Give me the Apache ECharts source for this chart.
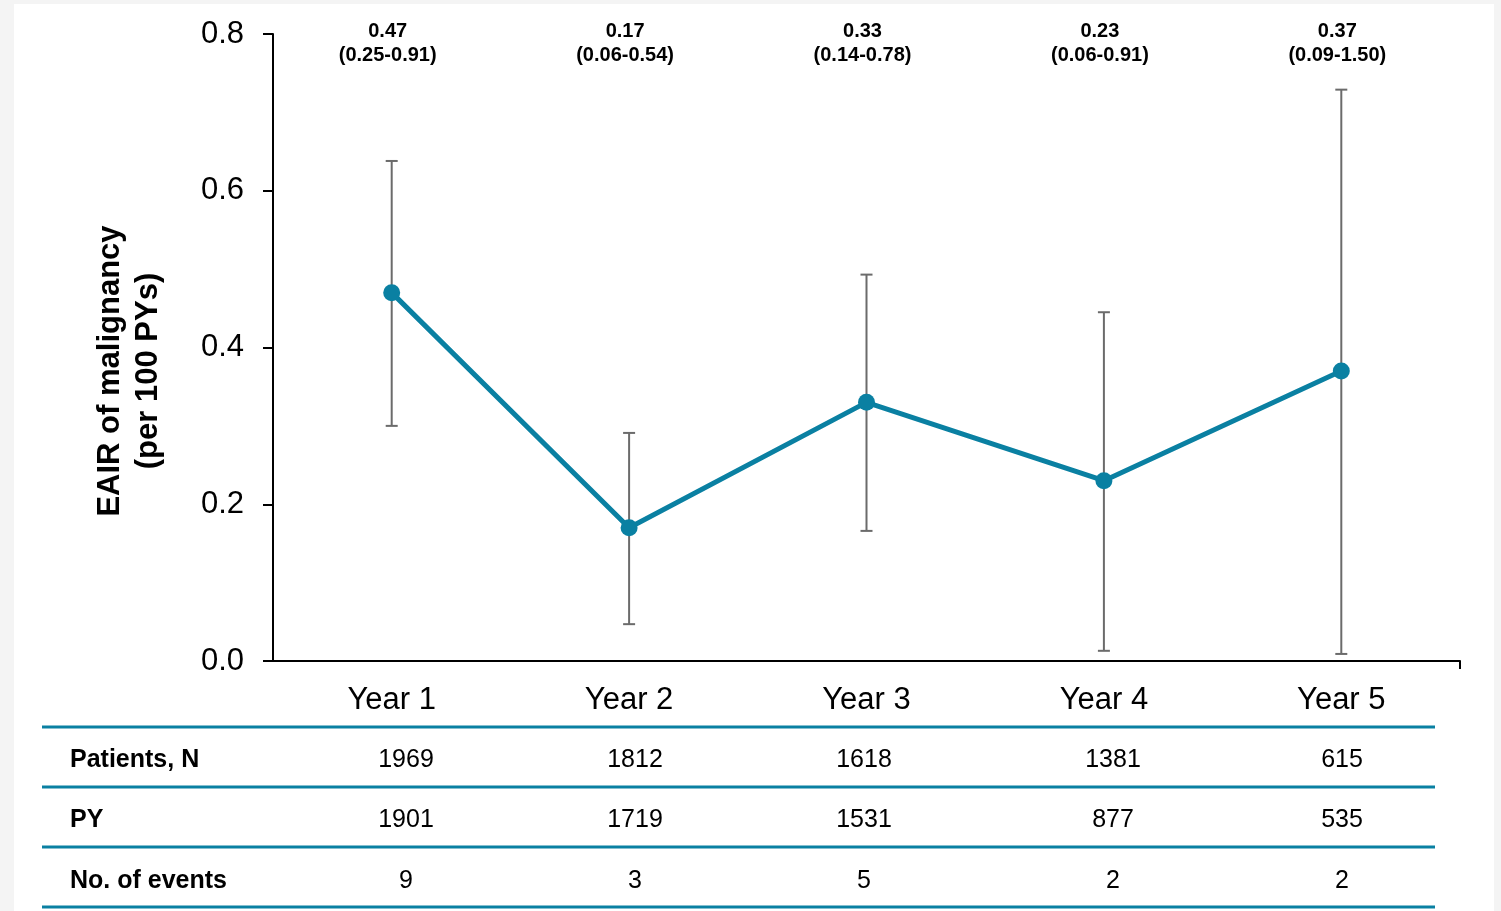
<!DOCTYPE html>
<html>
<head>
<meta charset="utf-8">
<script src="https://cdn.jsdelivr.net/npm/echarts@6/dist/echarts.min.js"></script>
<style>
  html, body { margin: 0; padding: 0; background: #f4f4f4; }
  #chart { width: 1501px; height: 911px; }
</style>
</head>
<body>
<div id="chart"></div>
<script>
// Yearly exposure-adjusted incidence rate of malignancy
const categories = ['Year 1', 'Year 2', 'Year 3', 'Year 4', 'Year 5'];
const eair = [0.47, 0.17, 0.33, 0.23, 0.37];
const ciLow = [0.25, 0.06, 0.14, 0.06, 0.09];
const ciHigh = [0.91, 0.54, 0.78, 0.91, 1.50];
// whisker extents as plotted
const whiskerLow = [0.30, 0.047, 0.166, 0.013, 0.009];
const whiskerHigh = [0.638, 0.291, 0.493, 0.445, 0.729];
const yTicks = { min: 0, max: 0.8, interval: 0.2 };

// Table under the chart
const rowLabels = ['Patients, N', 'PY', 'No. of events'];
const patients = [1969, 1812, 1618, 1381, 615];
const personYears = [1901, 1719, 1531, 877, 535];
const events = [9, 3, 5, 2, 2];

const FONT = "'Liberation Sans', Arial, sans-serif";
const TEAL = '#0a80a2';

const chart = echarts.init(document.getElementById('chart'));

// table layout
const tableRows = [patients, personYears, events];
const colX = [406, 635, 864, 1113, 1342];
const ruleY = [727, 787, 847, 907];
const rowY = [760, 820, 881];
const tableGraphics = [];
ruleY.forEach(y => {
  tableGraphics.push({
    type: 'line', shape: { x1: 42, y1: y, x2: 1435, y2: y },
    style: { stroke: TEAL, lineWidth: 3 }
  });
});
rowLabels.forEach((lab, r) => {
  tableGraphics.push({
    type: 'text', x: 70, y: rowY[r],
    style: { text: lab, font: 'bold 25px ' + FONT, fill: '#000', textVerticalAlign: 'middle', textAlign: 'left' }
  });
  tableRows[r].forEach((v, c) => {
    tableGraphics.push({
      type: 'text', x: colX[c], y: rowY[r],
      style: { text: String(v), font: '25px ' + FONT, fill: '#000', textVerticalAlign: 'middle', textAlign: 'center' }
    });
  });
});

const option = {
  animation: false,
  backgroundColor: '#f4f4f4',
  graphic: [
    { type: 'rect', z: -10, shape: { x: 14, y: 4, width: 1480, height: 907 }, style: { fill: '#ffffff' } },
    {
      type: 'text', x: 129, y: 371, rotation: Math.PI / 2,
      style: {
        text: 'EAIR of malignancy\n(per 100 PYs)',
        font: 'bold 31px ' + FONT, fill: '#000',
        textAlign: 'center', textVerticalAlign: 'middle', lineHeight: 38
      }
    },
    ...tableGraphics
  ],
  grid: { left: 273, right: 41, top: 34, bottom: 250, containLabel: false },
  xAxis: [
    {
      type: 'category', data: categories, boundaryGap: true,
      axisLine: { lineStyle: { color: '#000', width: 2 } },
      axisTick: { alignWithLabel: true, length: 8, lineStyle: { color: '#000', width: 2 } },
      axisLabel: { fontFamily: FONT, fontSize: 31, color: '#000', margin: 24 },
      splitLine: { show: false }
    },
    {
      type: 'value', min: 0, max: 1, position: 'bottom',
      axisLine: { show: false },
      axisTick: { show: true, customValues: [1], length: 8, lineStyle: { color: '#000', width: 2 } },
      axisLabel: { show: false },
      splitLine: { show: false }
    }
  ],
  yAxis: {
    type: 'value', min: yTicks.min, max: yTicks.max, interval: yTicks.interval,
    axisLine: { show: true, lineStyle: { color: '#000', width: 2 } },
    axisTick: { show: true, length: 10, lineStyle: { color: '#000', width: 2 } },
    axisLabel: { fontFamily: FONT, fontSize: 31, color: '#000', margin: 29, formatter: v => v.toFixed(1) },
    splitLine: { show: false }
  },
  series: [
    {
      type: 'custom', name: 'whiskers', z: 1,
      data: categories.map((c, i) => [i, whiskerLow[i], whiskerHigh[i]]),
      renderItem(params, api) {
        const lo = api.coord([api.value(0), api.value(1)]);
        const hi = api.coord([api.value(0), api.value(2)]);
        const cap = 6;
        const st = { stroke: '#6b6b6b', lineWidth: 2 };
        return {
          type: 'group', children: [
            { type: 'line', shape: { x1: lo[0], y1: lo[1], x2: hi[0], y2: hi[1] }, style: st },
            { type: 'line', shape: { x1: lo[0] - cap, y1: lo[1], x2: lo[0] + cap, y2: lo[1] }, style: st },
            { type: 'line', shape: { x1: hi[0] - cap, y1: hi[1], x2: hi[0] + cap, y2: hi[1] }, style: st }
          ]
        };
      }
    },
    {
      type: 'line', name: 'EAIR', data: eair, z: 3,
      symbol: 'circle', symbolSize: 17,
      lineStyle: { color: TEAL, width: 5 },
      itemStyle: { color: TEAL }
    },
    {
      type: 'custom', name: 'rate labels', z: 4,
      data: categories.map((c, i) => [i, eair[i], ciLow[i], ciHigh[i]]),
      renderItem(params, api) {
        const p = api.coord([api.value(0), yTicks.max]);
        const txt = api.value(1).toFixed(2) + '\n(' + api.value(2).toFixed(2) + '-' + api.value(3).toFixed(2) + ')';
        return {
          type: 'text', x: p[0] - 4, y: p[1] + 9,
          style: {
            text: txt, font: 'bold 20px ' + FONT, fill: '#000',
            textAlign: 'center', textVerticalAlign: 'middle', lineHeight: 24
          }
        };
      }
    }
  ]
};

chart.setOption(option);
</script>
</body>
</html>
